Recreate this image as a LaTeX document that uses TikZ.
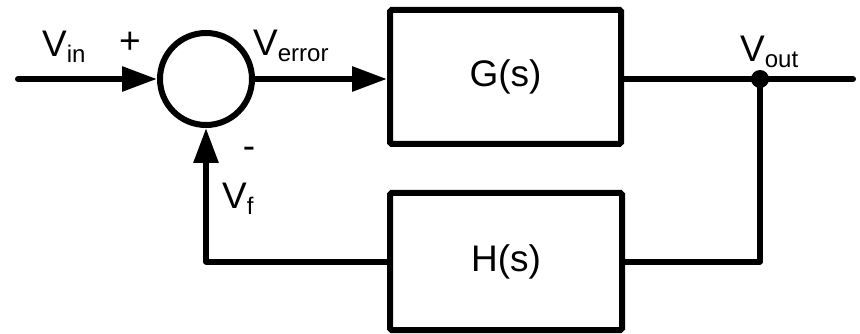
\documentclass[tikz,border=0pt]{standalone}
\usepackage{fontspec}
\setmainfont{Liberation Sans}
\usetikzlibrary{arrows.meta,calc}

\newcommand{\bigtxt}{\fontsize{37}{40}\selectfont}
\newcommand{\subtxt}[1]{\raisebox{-6pt}{\fontsize{24}{26}\selectfont #1}}

\tikzset{
  wire/.style={line width=6pt, line join=round, line cap=round},
  arr/.style={wire, -{Triangle[length=35pt,width=24pt]}},
  block/.style={draw, line width=6pt, rounded corners=1.5pt, inner sep=0pt, font=\bigtxt},
  summer/.style={draw, circle, line width=6pt, inner sep=0pt, minimum size=92pt},
  lbl/.style={inner sep=0pt, font=\bigtxt},
}

\begin{document}
\begin{tikzpicture}[x=1pt, y=-1pt]
\useasboundingbox (0,0) rectangle (860,334);

% blocks
\node[summer] (sum) at (206,79) {};
\node[block, minimum width=231pt, minimum height=134pt] (G) at (505.5,77) {G(s)};
\node[block, minimum width=232pt, minimum height=137pt] (H) at (506,261.5) {H(s)};

% free ends and branch point
\coordinate (in) at (18,79);
\coordinate (out) at (853,79);
\coordinate (tap) at (760,79);

% forward path
\draw[arr] (in) -- (sum.west);
\draw[arr] (sum.east) -- (G.west |- sum.east);
\draw[wire] (G.east |- sum.east) -- (out);
\fill (tap) circle (9pt);

% feedback path
\draw[wire] (tap) |- (H.east);
\draw[arr] (H.west) -| (sum.south);

% signal labels
\node[lbl, anchor=base west] (vin) at (42,57) {V\subtxt{in}};
\node[lbl, anchor=base west] (verr) at (253,56) {V\subtxt{error}};
\node[lbl, anchor=base west] (vout) at (740,62) {V\subtxt{out}};
\node[lbl, anchor=base west] (vf) at (222,208) {V\subtxt{f}};
\node[lbl] (plus) at (130,43) {+};
\node[lbl] (minus) at (249,153) {-};
\end{tikzpicture}
\end{document}
